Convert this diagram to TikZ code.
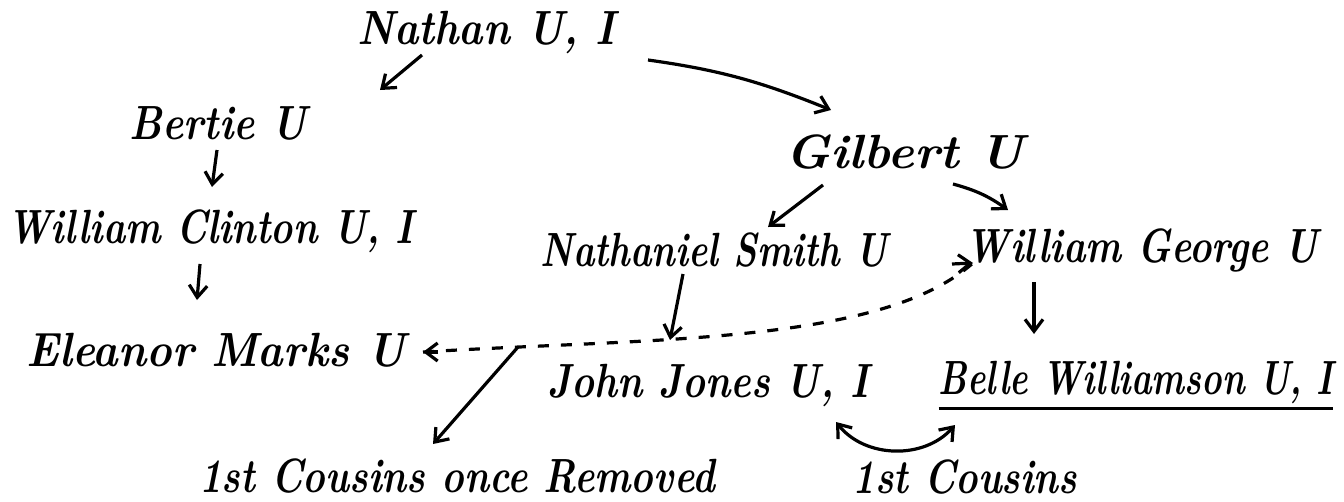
\documentclass[tikz,border=0pt]{standalone}
\usetikzlibrary{arrows.meta,calc}
\newcommand{\sx}[2]{\scalebox{#1}[1.2]{#2}}
\begin{document}
\begin{tikzpicture}[x=1pt,y=-1pt,
  lbl/.style={inner sep=0pt,font=\fontsize{40}{46}\selectfont\bfseries\itshape},
  arr/.style={line width=3.2pt,-{Straight Barb[length=12pt,width=18pt,line width=3.2pt]}},
  arrs/.style={line width=3.2pt,{Straight Barb[length=12pt,width=18pt,line width=3.2pt]}-{Straight Barb[length=12pt,width=18pt,line width=3.2pt]}},
  dsh/.style={line width=3.2pt,dash pattern=on 11pt off 12pt}]
\useasboundingbox (0,0) rectangle (1344,501);
\node[lbl] (nathan) at (486,32) {\sx{1.03}{Nathan U, I}};
\node[lbl] (bertie) at (218,123) {\sx{1.0}{Bertie U}};
\node[lbl] (clinton) at (210,231) {\sx{0.94}{William Clinton U, I}};
\node[lbl] (eleanor) at (216,350) {\sx{1.08}{Eleanor Marks U}};
\node[lbl] (gilbert) at (905,152) {\sx{1.26}{Gilbert U}};
\node[lbl] (nsmith) at (714,250) {\sx{0.91}{Nathaniel Smith U}};
\node[lbl] (wgeorge) at (1142,250) {\sx{0.95}{William George U}};
\node[lbl] (john) at (708,385) {\sx{0.97}{John Jones U, I}};
\node[lbl] (belle) at (1136,382) {\sx{0.87}{Belle Williamson U, I}};
\node[lbl] (cor) at (457,476) {\sx{0.96}{1st Cousins once Removed}};
\node[lbl] (cousins) at (965,477) {\sx{0.95}{1st Cousins}};
\coordinate (jn) at (518,347);
% underline
\draw[line width=3.2pt] ($(belle.south west)+(0,5)$) -- ($(belle.south east)+(0,5)$);
% arrows
\draw[arr] ($(nathan)+(-64,23)$) -- ($(bertie)+(162,-33)$);
\draw[arr] ($(nathan)+(162,28)$) to[out=-8,in=158] ($(gilbert)+(-74,-42)$);
\draw[arr] ($(bertie)+(-1,27)$) -- ($(clinton)+(2,-44)$);
\draw[arr] ($(clinton)+(-10,33)$) -- ($(eleanor)+(-19,-50)$);
\draw[arr] ($(gilbert)+(-82,33)$) -- ($(nsmith)+(54,-23)$);
\draw[arr] ($(gilbert)+(48,32)$) to[bend left=10] ($(wgeorge)+(-134,-40)$);
\draw[arr] ($(nsmith)+(-31,24)$) -- ($(john)+(-38,-45)$);
\draw[arr] ($(wgeorge)+(-108,32)$) -- ($(belle)+(-102,-48)$);
\draw[dsh] ($(eleanor)+(207,2)$) .. controls (650,338) and (880,345) .. ($(wgeorge)+(-169,13)$);
\draw[arr] ($(eleanor)+(222,2)$) -- ($(eleanor)+(207,2)$);
\draw[arr] ($(wgeorge)+(-190,14)$) -- ($(wgeorge)+(-169,13)$);
\draw[arr] (jn) -- ($(cor)+(-24,-32)$);
\draw[arrs] ($(john)+(128,37)$) to[bend right=50] ($(belle)+(-181,43)$);
\end{tikzpicture}
\end{document}
